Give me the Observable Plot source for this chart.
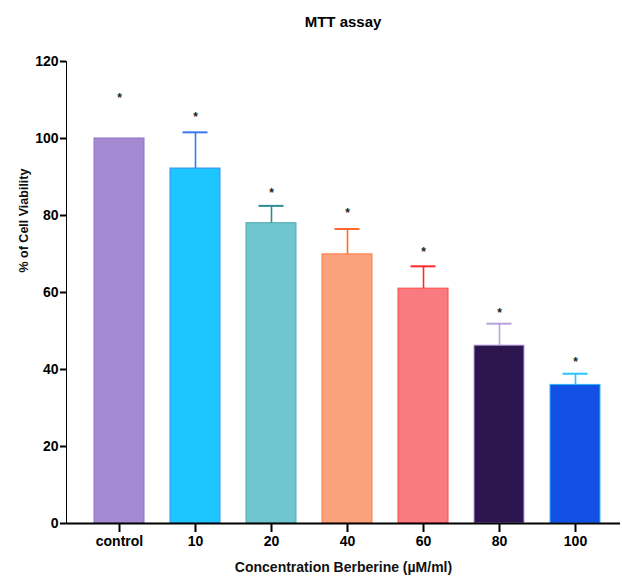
<!DOCTYPE html>
<html><head><meta charset="utf-8">
<script src="https://cdn.jsdelivr.net/npm/d3@7"></script>
<script src="https://cdn.jsdelivr.net/npm/@observablehq/plot@0.6"></script>
<style>
body{margin:0;background:#fff;}
#title{width:554px;margin-left:66px;height:40px;box-sizing:border-box;padding-top:13px;text-align:center;font:bold 15px "Liberation Sans",Arial,sans-serif;line-height:18px;color:#000;}
#chart svg{display:block}
#chart g[aria-label^="y-axis"] line, #chart g[aria-label^="y-axis"] path,
#chart g[aria-label^="x-axis"] line, #chart g[aria-label^="x-axis"] path {stroke-width:2px;stroke:#000;}
#chart g[aria-label^="y-axis"] text, #chart g[aria-label^="x-axis"] text {font-size:14px;font-weight:bold;}
</style></head>
<body>
<div id="title">MTT assay</div>
<div id="chart"></div>
<script>
const categories = ["control", "10", "20", "40", "60", "80", "100"];
const viability = [100, 92.2, 78.0, 69.9, 61.0, 46.2, 36.0];
const sdUpper = [0, 9.4, 4.5, 6.6, 5.8, 5.7, 2.9];
const starHeight = [111.4, 106.5, 86.8, 81.6, 71.5, 55.6, 43.0];
const yTicks = [0, 20, 40, 60, 80, 100, 120];
const fillColors = ["#A48AD2", "#1EC6FF", "#70C6CE", "#F9A27B", "#FA7B7F", "#2D1650", "#124FE5"];
const edgeColors = ["#8E72C6", "#3A8CF5", "#4FA9B2", "#FF7A3E", "#FF4A4A", "#B7A2E0", "#29B6FF"];
const errColors  = ["#8E72C6", "#3A78F2", "#2E8C96", "#FF6A2A", "#FF2A2A", "#B7A2E0", "#29C3FF"];

const rows = categories.map((c, i) => ({
  cat: c, v: viability[i], sd: sdUpper[i], hi: viability[i] + sdUpper[i],
  star: starHeight[i], fill: fillColors[i], edge: edgeColors[i], err: errColors[i]
}));
const withErr = rows.filter(d => d.sd > 0);

const plot = Plot.plot({
  width: 622, height: 542,
  marginTop: 21, marginBottom: 59, marginLeft: 66, marginRight: 2,
  style: {fontFamily: '"Liberation Sans", Arial, sans-serif', fontSize: "14px", fontWeight: "bold", color: "#000", background: "#fff"},
  color: {type: "identity"},
  x: {type: "band", domain: categories, range: [66, 627.5], padding: 0.345, paddingOuter: 0.35, tickSize: 9, tickPadding: 4, label: null},
  y: {domain: [0, 120], ticks: yTicks, tickSize: 6, tickPadding: 2, label: null, line: true},
  marks: [
    Plot.barY(rows, {x: "cat", y: "v", fill: "fill", stroke: "edge", strokeWidth: 1}),
    Plot.ruleX(withErr, {x: "cat", y1: "v", y2: "hi", stroke: "err", strokeWidth: 1.6}),
    Plot.tickY(withErr, {x: "cat", y: "hi", stroke: "err", strokeWidth: 2, insetLeft: 12.5, insetRight: 12.5}),
    Plot.text(rows, {x: "cat", y: "star", text: () => "*", fontSize: 12, fontWeight: "bold", dy: 4, fill: "#222"}),
    Plot.ruleY([0], {stroke: "#000", strokeWidth: 2}),
    Plot.text(["Concentration Berberine (\u00B5M/ml)"], {text: d => d, frameAnchor: "bottom", dy: 48, fontSize: 14, fontWeight: "bold", fill: "#111"}),
    Plot.text(["% of Cell Viability"], {text: d => d, frameAnchor: "left", rotate: -90, dx: -43, dy: -20, fontSize: 12.5, fontWeight: "bold", fill: "#111"})
  ]
});
document.getElementById("chart").appendChild(plot);
</script>
</body></html>
